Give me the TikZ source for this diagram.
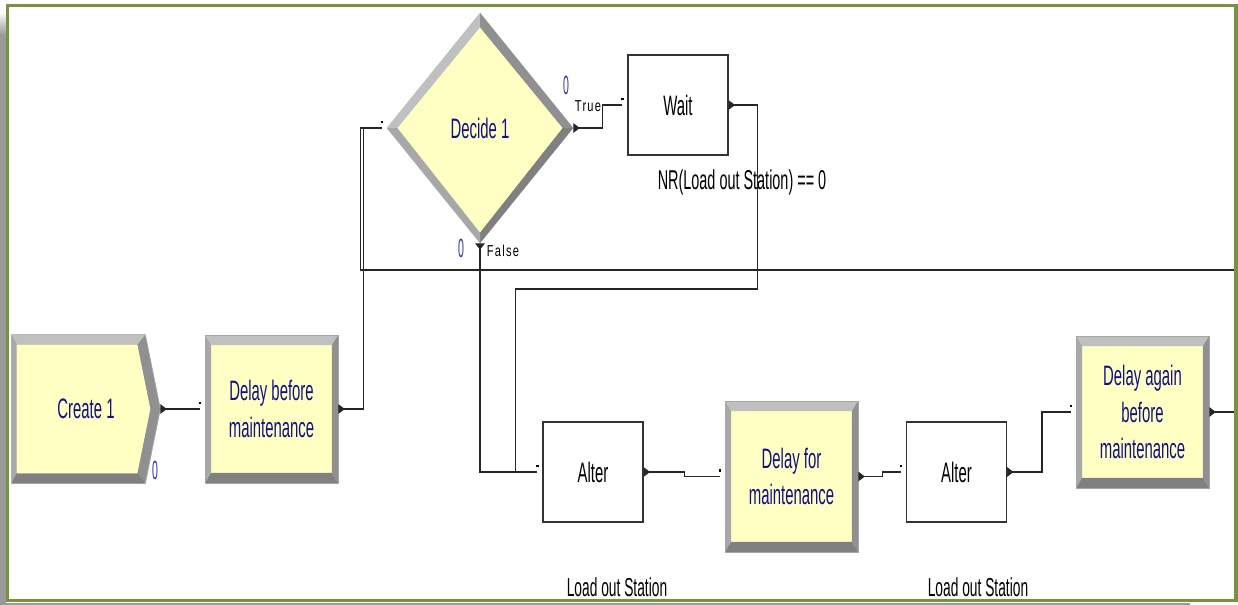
\documentclass[tikz,border=0pt]{standalone}
\usepackage{fontspec}
\usetikzlibrary{arrows.meta,calc,shapes.geometric,backgrounds}
\newfontfamily\arenafont[FakeStretch=0.53]{Liberation Sans}
\newfontfamily\flagfont[FakeStretch=0.7,LetterSpace=8]{Liberation Sans}
\newfontfamily\cntfont[FakeStretch=0.4]{Liberation Sans}
\definecolor{arenayel}{HTML}{FFFFC4}
\definecolor{arenanavy}{HTML}{10108A}
\definecolor{arenablue}{HTML}{3030B8}
\definecolor{arenagreen}{HTML}{77933C}
\definecolor{bevtop}{HTML}{C0C0C0}
\definecolor{bevleft}{HTML}{A8A8A8}
\definecolor{bevright}{HTML}{909090}
\definecolor{bevbot}{HTML}{808080}
\definecolor{shadegray}{HTML}{999999}
\tikzset{
  lab/.style={font=\arenafont\fontsize{16}{21}\selectfont, align=center},
  mod/.style={lab, rectangle, inner sep=0pt, fill=arenayel, draw=gray!70, text=arenanavy,
    path picture={
      \coordinate (p1) at (path picture bounding box.north west);
      \coordinate (p2) at (path picture bounding box.south east);
      \fill[bevtop] (p1) -- (p1 -| p2) -- ($(p1 -| p2)+(-6,10)$) -- ($(p1)+(6,10)$) -- cycle;
      \fill[bevleft] (p1) -- ($(p1)+(6,10)$) -- ($(p1 |- p2)+(6,-10)$) -- (p1 |- p2) -- cycle;
      \fill[bevright] (p1 -| p2) -- (p2) -- ($(p2)+(-6,-10)$) -- ($(p1 -| p2)+(-6,10)$) -- cycle;
      \fill[bevbot] (p1 |- p2) -- (p2) -- ($(p2)+(-6,-10)$) -- ($(p1 |- p2)+(6,-10)$) -- cycle;
    }},
  blk/.style={lab, rectangle, inner sep=0pt, draw=black!80, line width=0.6pt, fill=white, minimum width=2cm, minimum height=2cm},
  arr/.style={{Triangle[reversed,length=1.3mm,width=1.9mm]}-, line width=0.6pt, color=black!85},
  ent/.style={fill=black, inner sep=0pt, minimum size=0.45mm, yshift=1.2mm},
  flag/.style={font=\flagfont\fontsize{9}{10}\selectfont, inner sep=0pt},
  cnt/.style={font=\cntfont\fontsize{15}{16}\selectfont, text=arenablue, inner sep=0pt},
  note/.style={font=\arenafont\fontsize{14.8}{16}\selectfont, inner sep=0pt},
}
\begin{document}
\begin{tikzpicture}[x=0.02cm, y=-0.02cm]
  \useasboundingbox (0,0) rectangle (1238,605);
  \begin{scope}[on background layer]
    \fill[white] (0,0) rectangle (1238,605);
  \end{scope}
  % modules
  \node[lab, text=arenanavy, inner sep=0pt, minimum width=2.96cm, minimum height=2.96cm] (cr) at (86,409) {Create 1};
  \node[mod, minimum width=2.66cm, minimum height=2.96cm] (dbm) at (271.5,409) {Delay before\\maintenance};
  \node[lab, diamond, inner sep=0pt, minimum width=3.72cm, minimum height=4.6cm, text=arenanavy] (dec) at (480,128) {Decide 1};
  \node[blk] (wt) at (678,105) {Wait};
  \node[blk] (al1) at (593,472) {Alter};
  \node[mod, minimum width=2.66cm, minimum height=3.02cm] (dfm) at (791.5,476.5) {Delay for\\maintenance};
  \node[blk] (al2) at (956.5,472) {Alter};
  \node[mod, minimum width=2.66cm, minimum height=3.04cm] (dag) at (1142.5,412) {Delay again\\before\\maintenance};
  % create and decide shapes
  \begin{scope}[on background layer]
    \fill[bevright, draw=gray!70] (cr.north west) -- ($(cr.north east)+(-15,0)$) -- (cr.east) -- ($(cr.south east)+(-15,0)$) -- (cr.south west) -- cycle;
    \fill[bevtop] (cr.north west) -- ($(cr.north east)+(-15,0)$) -- ($(cr.north east)+(-23,10)$) -- ($(cr.north west)+(5,10)$) -- cycle;
    \fill[bevleft] (cr.north west) -- ($(cr.north west)+(5,10)$) -- ($(cr.south west)+(5,-10)$) -- (cr.south west) -- cycle;
    \fill[bevbot] (cr.south west) -- ($(cr.south east)+(-15,0)$) -- ($(cr.south east)+(-23,-10)$) -- ($(cr.south west)+(5,-10)$) -- cycle;
    \fill[arenayel] ($(cr.north west)+(5,10)$) -- ($(cr.north east)+(-23,10)$) -- ($(cr.east)+(-10,0)$) -- ($(cr.south east)+(-23,-10)$) -- ($(cr.south west)+(5,-10)$) -- cycle;
    \fill[bevtop] (dec.north) -- (dec.west) -- ($(dec.west)+(11,0)$) -- ($(dec.north)+(0,15)$) -- cycle;
    \fill[bevright] (dec.north) -- (dec.east) -- ($(dec.east)+(-11,0)$) -- ($(dec.north)+(0,15)$) -- cycle;
    \fill[bevbot] (dec.east) -- (dec.south) -- ($(dec.south)+(0,-11)$) -- ($(dec.east)+(-11,0)$) -- cycle;
    \fill[bevleft] (dec.south) -- (dec.west) -- ($(dec.west)+(11,0)$) -- ($(dec.south)+(0,-11)$) -- cycle;
    \fill[arenayel] ($(dec.north)+(0,15)$) -- ($(dec.east)+(-11,0)$) -- ($(dec.south)+(0,-11)$) -- ($(dec.west)+(11,0)$) -- cycle;
  \end{scope}
  % counters and labels
  \node[cnt] (c1) at (155,470) {0};
  \node[cnt] (c2) at (566,85) {0};
  \node[cnt] (c3) at (461,248) {0};
  \node[flag] (tru) at (588,106) {True};
  \node[flag] (fal) at (503,251) {False};
  \node[note, font=\arenafont\fontsize{15.5}{16}\selectfont] (cond) at (742,182) {NR(Load out Station) == 0};
  \node[note] (ls1) at (617,587) {Load out Station};
  \node[note] (ls2) at (978,587) {Load out Station};
  % connectors
  \coordinate (loopr) at (1236,270);
  \draw[arr] (cr.east) -- ($(dbm.west)+(-5,0)$) node[ent]{};
  \draw[arr] (dbm.east) -- ++(25,0) |- ($(dec.west)+(-5,0)$) node[ent]{};
  \draw[arr] (dec.east) -- ++(29,0) |- ($(wt.west)+(-5,0)$) node[ent]{};
  \draw[arr] (dec.south) |- ($(al1.west)+(-5,0)$) node[ent]{};
  \draw[arr] (wt.east) -- ++(29,0) -- ++(0,184) -| ($(al1.west)+(-27,0)$) -- ($(al1.west)+(-5,0)$);
  \draw[arr] (al1.east) -- ++(41,0) |- ($(dfm.west)+(-5,0)$) node[ent]{};
  \draw[arr] (dfm.east) -- ++(24,0) |- ($(al2.west)+(-5,0)$) node[ent]{};
  \draw[arr] (al2.east) -- ++(35,0) |- ($(dag.west)+(-5,0)$) node[ent]{};
  \draw[arr] (dag.east) -| (loopr) -| ($(dec.west)+(-26,0)$) -- ($(dec.west)+(-5,0)$);
  % frame
  \fill[shadegray] (0,35) rectangle (6,605);
  \shade[top color=white, bottom color=shadegray] (0,12) rectangle (6,35);
  \fill[shadegray] (6,603) rectangle (1190,605);
  \draw[arenagreen, line width=2.1pt] (7.5,5.5) rectangle (1236,600.5);
\end{tikzpicture}
\end{document}
